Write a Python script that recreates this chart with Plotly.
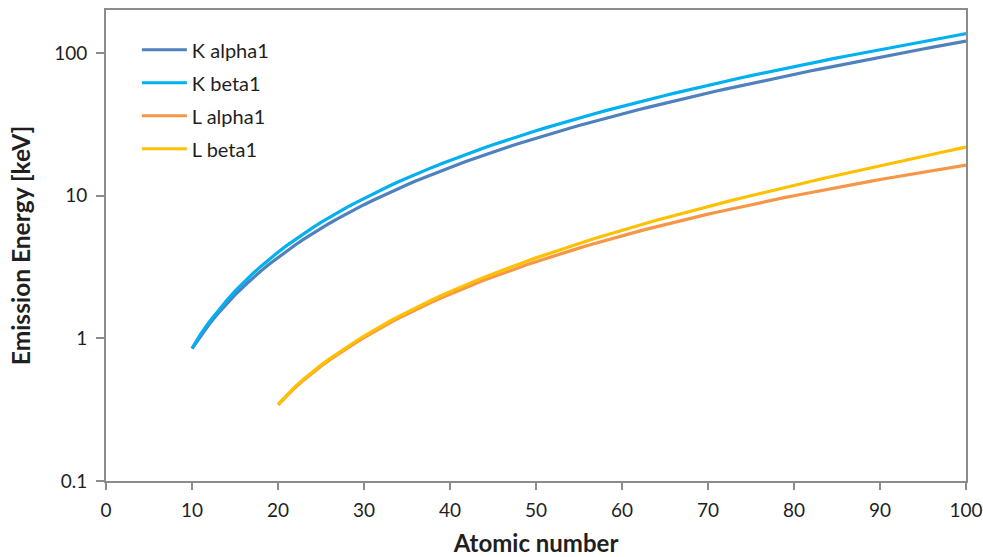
import plotly.graph_objects as go

z_k = list(range(10, 101))
z_l = list(range(20, 101))

k_alpha1 = [0.8486, 1.0410, 1.2536, 1.4867, 1.7400, 2.0137, 2.3078, 2.6224, 2.9577, 3.3138,
            3.6917, 4.0906, 4.5108, 4.9522, 5.4147, 5.8988, 6.4038, 6.9303, 7.4782, 8.0478,
            8.6389, 9.2517, 9.8864, 10.5437, 11.2224, 11.9242, 12.649, 13.3953, 14.1650, 14.9584,
            15.7751, 16.6151, 17.4793, 18.3671, 19.2792, 20.2161, 21.1771, 22.1629, 23.1736, 24.2097,
            25.2713, 26.3591, 27.4723, 28.6120, 29.779, 30.9728, 32.1936, 33.4418, 34.7197, 36.0263,
            37.3610, 38.7247, 40.1181, 41.5422, 42.9962, 44.4816, 45.9984, 47.5467, 49.1277, 50.7416,
            52.3889, 54.0698, 55.7902, 57.532, 59.3182, 61.1403, 63.0005, 64.8956, 66.832, 68.8037,
            70.819, 72.8715, 74.9694, 77.1079, 79.290, 81.52, 83.78, 86.10, 88.47, 90.884,
            93.350, 95.868, 98.439, 101.0, 103.7, 106.5, 109.3, 112.1, 115.0, 118.0, 121.0]

k_beta1 = [0.8486, 1.0711, 1.3022, 1.5575, 1.8359, 2.1391, 2.4640, 2.8156, 3.1905, 3.5896,
           4.0127, 4.4605, 4.9318, 5.4273, 5.9467, 6.4905, 7.0580, 7.6494, 8.2647, 8.9053,
           9.5720, 10.2642, 10.9821, 11.7262, 12.4959, 13.2914, 14.112, 14.9613, 15.8357, 16.7378,
           17.6678, 18.6225, 19.6083, 20.619, 21.6568, 22.7236, 23.8187, 24.9424, 26.0955, 27.2759,
           28.4860, 29.7256, 30.9957, 32.2947, 33.624, 34.9869, 36.3784, 37.8012, 39.2576, 40.7484,
           42.2715, 43.826, 45.413, 47.0379, 48.697, 50.382, 52.119, 53.877, 55.681, 57.517,
           59.37, 61.283, 63.234, 65.223, 67.2443, 69.310, 71.413, 73.5608, 75.748, 77.984,
           80.253, 82.576, 84.936, 87.343, 89.80, 92.30, 94.87, 97.47, 100.13, 102.85,
           105.609, 108.427, 111.300, 114.2, 117.2, 120.3, 123.4, 126.6, 129.8, 133.1, 136.5]

l_alpha1 = [0.3413, 0.3954, 0.4522, 0.5113, 0.5728, 0.6374, 0.7050, 0.7762, 0.8515, 0.9297,
            1.0117, 1.09792, 1.18800, 1.2820, 1.37910, 1.48043, 1.586, 1.69413, 1.80656, 1.92256,
            2.04236, 2.16589, 2.29316, 2.4240, 2.55855, 2.69674, 2.83861, 2.98431, 3.13373, 3.28694,
            3.44398, 3.60472, 3.76933, 3.93765, 4.1099, 4.2865, 4.46626, 4.65097, 4.8402, 5.0337,
            5.2304, 5.4325, 5.6361, 5.8457, 6.0572, 6.2728, 6.4952, 6.7198, 6.9487, 7.1799,
            7.4156, 7.6555, 7.8990, 8.1461, 8.3976, 8.6525, 8.9117, 9.1751, 9.4423, 9.7133,
            9.9888, 10.2685, 10.5515, 10.8388, 11.1308, 11.4268, 11.7270, 12.0313, 12.3397, 12.652,
            12.9687, 13.2907, 13.6147, 13.946, 14.282, 14.620, 14.961, 15.309, 15.661, 16.018, 16.379]

l_beta1 = [0.3449, 0.3996, 0.4584, 0.5192, 0.5828, 0.6488, 0.7185, 0.7914, 0.8688, 0.9498,
           1.0347, 1.1248, 1.2189, 1.3174, 1.41923, 1.52590, 1.6366, 1.75217, 1.87172, 1.99584,
           2.1244, 2.2574, 2.39481, 2.5368, 2.68323, 2.83441, 2.99022, 3.15094, 3.31657, 3.48721,
           3.66280, 3.84357, 4.02958, 4.22072, 4.4183, 4.6198, 4.82753, 5.0421, 5.2622, 5.4889,
           5.7216, 5.9613, 6.2051, 6.4564, 6.7132, 6.978, 7.2477, 7.5253, 7.8109, 8.1010,
           8.4018, 8.7090, 9.0227, 9.3431, 9.67235, 10.0100, 10.3553, 10.7083, 11.0707, 11.4423,
           11.8226, 12.2133, 12.6137, 13.0235, 13.447, 13.876, 14.316, 14.770, 15.2358, 15.713,
           16.2024, 16.702, 17.2200, 17.750, 18.293, 18.852, 19.427, 20.018, 20.624, 21.248, 21.88]

series = [
    ("K alpha1", z_k, k_alpha1, "#4F81BD"),
    ("K beta1", z_k, k_beta1, "#00B0F0"),
    ("L alpha1", z_l, l_alpha1, "#F79646"),
    ("L beta1", z_l, l_beta1, "#FFC000"),
]

x_ticks = list(range(0, 101, 10))
y_ticks = [0.1, 1, 10, 100]
y_tick_labels = ["0.1", "1", "10", "100"]

FONT = "Lato"
TXT = "#1f1f1f"
AX = "#8c8c8c"

fig = go.Figure()
for i, (name, xs, ys, col) in enumerate(series):
    fig.add_trace(go.Scatter(x=xs, y=ys, mode="lines", name=name,
                             legendgroup=f"g{i}",
                             line=dict(color=col, width=3.2)))

fig.update_layout(
    width=983, height=557,
    margin=dict(l=106, r=17, t=10, b=76, autoexpand=False),
    paper_bgcolor="white", plot_bgcolor="white",
    font=dict(family=FONT, size=19, color=TXT),
    showlegend=True,
    legend=dict(x=0.0359, y=0.957, xanchor="left", yanchor="top",
                bgcolor="rgba(0,0,0,0)", font=dict(size=20, color=TXT),
                traceorder="grouped", tracegroupgap=4, itemwidth=45),
    xaxis=dict(range=[0, 100], tickvals=x_ticks, ticks="outside", ticklen=7,
               tickcolor=AX, tickwidth=1.5, automargin=False, ticklabelstandoff=4,
               showline=True, linecolor=AX, linewidth=2, mirror=True,
               showgrid=False, zeroline=False,
               tickfont=dict(size=19, family=FONT, color=TXT),
               title=dict(text="<b>Atomic number</b>", font=dict(size=24, family=FONT, color=TXT),
                          standoff=22)),
    yaxis=dict(type="log", range=[-1, 2.301], tickvals=y_ticks, ticktext=y_tick_labels,
               ticks="outside", ticklen=8, tickcolor=AX, tickwidth=1.5, automargin=False,
               ticklabelstandoff=5,
               showline=True, linecolor=AX, linewidth=2, mirror=True,
               showgrid=False, zeroline=False,
               tickfont=dict(size=19, family=FONT, color=TXT),
               title=dict(text="<b>Emission Energy [keV]</b>", font=dict(size=24.5, family=FONT, color=TXT),
                          standoff=17)),
)

fig.write_html("out.html", config={"displayModeBar": False},
               post_script="document.body.style.margin='0';document.body.style.overflow='hidden';")
